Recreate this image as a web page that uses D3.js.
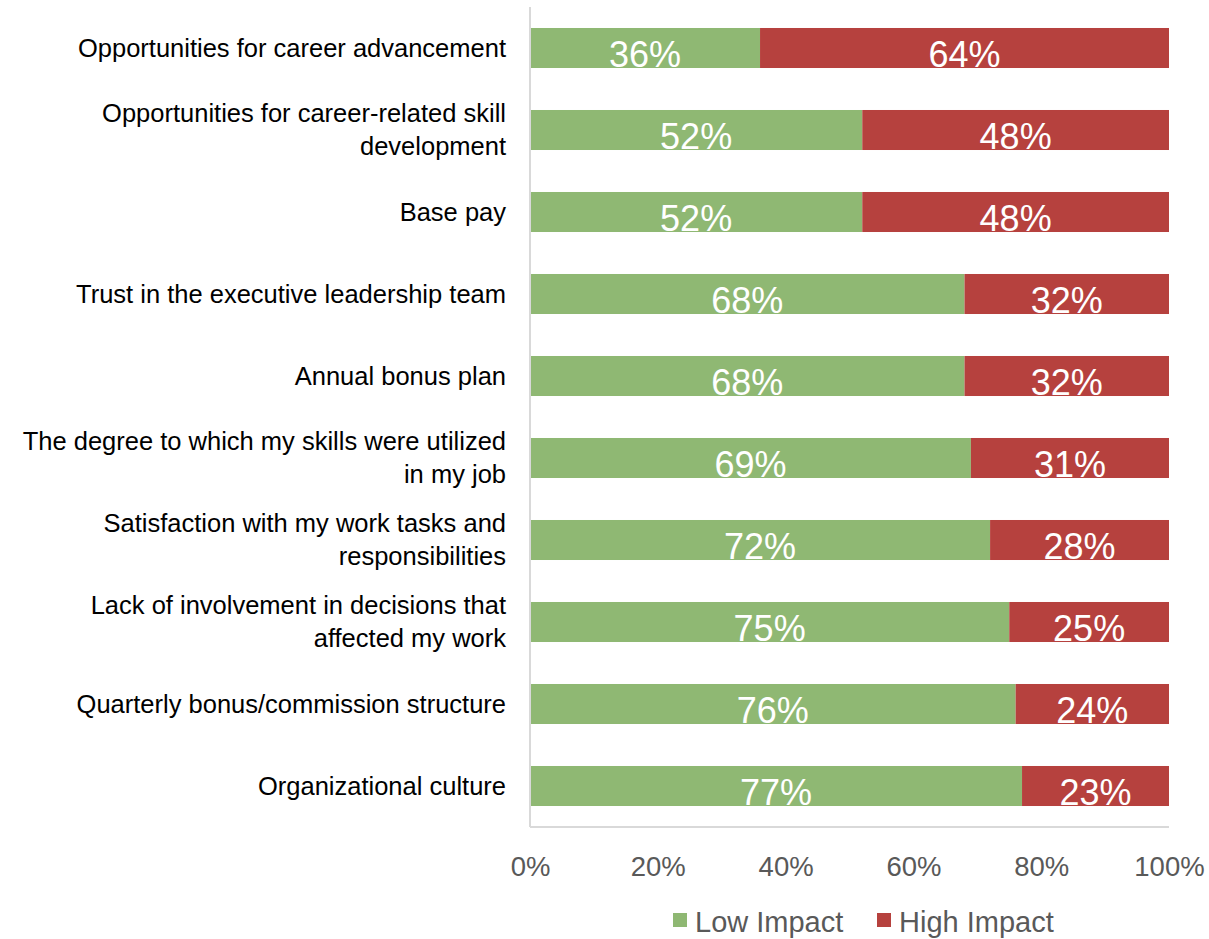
<!DOCTYPE html>
<html>
<head>
<meta charset="utf-8">
<script src="https://cdn.jsdelivr.net/npm/d3@7"></script>
<style>
  html, body { margin: 0; padding: 0; background: #ffffff; }
  svg { display: block; font-family: "Liberation Sans", Arial, sans-serif; }
</style>
</head>
<body>
<svg id="chart" width="1209" height="939"></svg>
<script>
// Survey factors, top to bottom
const categories = [
  "Opportunities for career advancement",
  "Opportunities for career-related skill development",
  "Base pay",
  "Trust in the executive leadership team",
  "Annual bonus plan",
  "The degree to which my skills were utilized in my job",
  "Satisfaction with my work tasks and responsibilities",
  "Lack of involvement in decisions that affected my work",
  "Quarterly bonus/commission structure",
  "Organizational culture"
];
const lowImpact  = [36, 52, 52, 68, 68, 69, 72, 75, 76, 77];
const highImpact = [64, 48, 48, 32, 32, 31, 28, 25, 24, 23];
const seriesNames = ["Low Impact", "High Impact"];
const seriesColors = ["#8fb873", "#b6413e"];
const tickValues = [0, 20, 40, 60, 80, 100];

const rows = categories.map((c, i) => ({ category: c, low: lowImpact[i], high: highImpact[i] }));
const stack = d3.stack().keys(["low", "high"]);
const layers = stack(rows);

const svg = d3.select("#chart");
const plot = { left: 530, right: 1169, top: 7, bottom: 827 };

const x = d3.scaleLinear().domain([0, 100]).range([plot.left, plot.right]);
const y = d3.scaleBand().domain(categories).range([plot.top, plot.bottom])
  .paddingInner(0.512).paddingOuter(0.256);

// Bars
const g = svg.append("g");
layers.forEach((layer, si) => {
  g.append("g").selectAll("rect").data(layer).join("rect")
    .attr("x", d => x(d[0]))
    .attr("y", d => y(d.data.category))
    .attr("width", d => x(d[1]) - x(d[0]))
    .attr("height", y.bandwidth())
    .attr("fill", seriesColors[si]);
});

// Value labels inside segments
layers.forEach((layer, si) => {
  g.append("g").selectAll("text").data(layer).join("text")
    .attr("x", d => (x(d[0]) + x(d[1])) / 2)
    .attr("y", d => y(d.data.category) + y.bandwidth() - 1)
    .attr("text-anchor", "middle")
    .attr("fill", "#ffffff")
    .attr("font-size", 36)
    .text(d => (d[1] - d[0]) + "%");
});

// Axis lines
svg.append("line")
  .attr("x1", plot.left).attr("x2", plot.left)
  .attr("y1", plot.top).attr("y2", plot.bottom)
  .attr("stroke", "#d9d9d9").attr("stroke-width", 2);
svg.append("line")
  .attr("x1", plot.left).attr("x2", plot.right)
  .attr("y1", plot.bottom).attr("y2", plot.bottom)
  .attr("stroke", "#d9d9d9").attr("stroke-width", 2);

// X tick labels
const xAxis = d3.axisBottom(x).tickValues(tickValues).tickSize(0).tickPadding(0)
  .tickFormat(d => d + "%");
const xg = svg.append("g").attr("transform", `translate(0,${plot.bottom})`).call(xAxis);
xg.select(".domain").remove();
xg.selectAll("text")
  .attr("dy", null)
  .attr("y", 49)
  .attr("fill", "#595959")
  .attr("font-size", 27.5)
  .attr("font-family", "Liberation Sans, Arial, sans-serif");

// Category labels, word-wrapped and right aligned
const maxLabelWidth = 500;
const lineHeight = 33;
const labelX = 506;
const labelG = svg.append("g").attr("font-size", 25.5).attr("fill", "#000000");
categories.forEach(cat => {
  const words = cat.split(" ");
  const t = labelG.append("text").attr("text-anchor", "end");
  const lines = [];
  let line = [];
  const probe = t.append("tspan");
  words.forEach(w => {
    const trial = line.concat([w]).join(" ");
    probe.text(trial);
    if (probe.node().getComputedTextLength() > maxLabelWidth && line.length) {
      lines.push(line.join(" "));
      line = [w];
    } else {
      line.push(w);
    }
  });
  lines.push(line.join(" "));
  probe.remove();
  const cy = y(cat) + y.bandwidth() / 2;
  const firstBaseline = cy - (lines.length - 1) * lineHeight / 2 + 8.5;
  lines.forEach((ln, i) => {
    t.append("tspan")
      .attr("x", labelX)
      .attr("y", firstBaseline + i * lineHeight)
      .text(ln);
  });
});

// Legend
const legendItems = [
  { name: seriesNames[0], color: seriesColors[0], x: 673 },
  { name: seriesNames[1], color: seriesColors[1], x: 877 }
];
const lg = svg.append("g");
legendItems.forEach(it => {
  lg.append("rect").attr("x", it.x).attr("y", 913).attr("width", 14).attr("height", 14)
    .attr("fill", it.color);
  lg.append("text").attr("x", it.x + 22).attr("y", 932)
    .attr("font-size", 29).attr("fill", "#595959").text(it.name);
});
</script>
</body>
</html>
